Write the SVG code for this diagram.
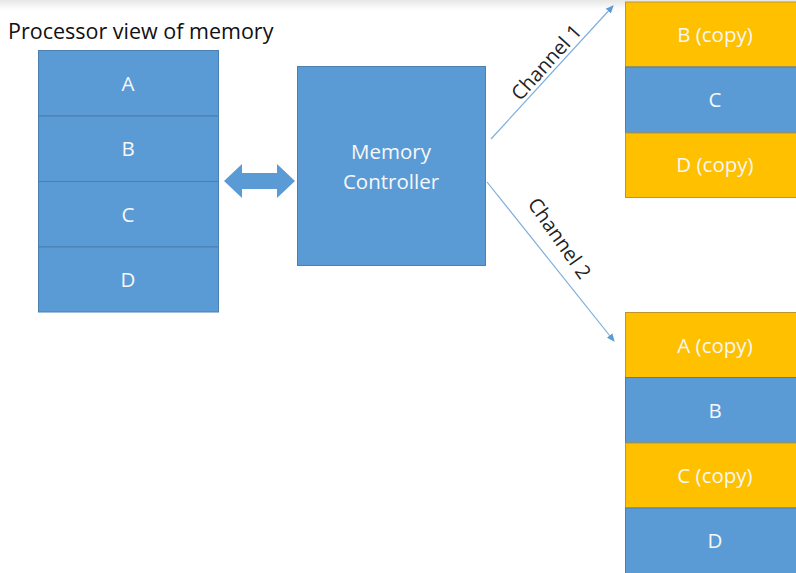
<svg xmlns="http://www.w3.org/2000/svg" width="796" height="573" viewBox="0 0 796 573">
<defs>
<linearGradient id="topshade" x1="0" y1="0" x2="0" y2="1">
<stop offset="0" stop-color="#e6e6e6"/>
<stop offset="1" stop-color="#ffffff"/>
</linearGradient>
<marker id="ah" markerWidth="8" markerHeight="8" refX="7" refY="4" orient="auto" markerUnits="userSpaceOnUse">
<path d="M0,0.5 L8,4 L0,7.5 Z" fill="#5b9bd5"/>
</marker>
<style>
.blue{fill:#5b9bd5;stroke:#4a7fb0;stroke-width:1}
.yel{fill:#ffc000;stroke:#c0962a;stroke-width:1}
.lbl{font-family:"Open Sans","Liberation Sans",sans-serif;font-size:20.5px;fill:#f7f7f7;text-anchor:middle;dominant-baseline:central}
.ch{font-family:"Open Sans","Liberation Sans",sans-serif;font-size:20px;fill:#222222;text-anchor:middle;dominant-baseline:central}
.conn{stroke:#7eaedc;stroke-width:1.2;fill:none}
</style>
</defs>
<rect x="0" y="0" width="796" height="573" fill="#ffffff"/>
<rect x="0" y="0" width="796" height="10" fill="url(#topshade)"/>
<text x="8" y="30" font-family="'Open Sans','Liberation Sans',sans-serif" font-size="21.5" fill="#111111" dominant-baseline="central">Processor view of memory</text>

<g id="proc-view">
<rect class="blue" x="38.5" y="50.5" width="180" height="65.5"/>
<text class="lbl" x="128" y="83">A</text>
<rect class="blue" x="38.5" y="116" width="180" height="65.5"/>
<text class="lbl" x="128" y="148">B</text>
<rect class="blue" x="38.5" y="181.5" width="180" height="65.5"/>
<text class="lbl" x="128" y="214">C</text>
<rect class="blue" x="38.5" y="247" width="180" height="65"/>
<text class="lbl" x="128" y="279">D</text>
</g>

<g id="memory-controller">
<rect class="blue" x="297.5" y="66.5" width="188" height="199"/>
<text class="lbl" x="391" y="151">Memory</text>
<text class="lbl" x="391" y="181">Controller</text>
</g>

<g id="channel1-mem">
<rect class="yel" x="625.5" y="2" width="175" height="65"/>
<text class="lbl" x="715" y="34">B (copy)</text>
<rect class="blue" x="625.5" y="67" width="175" height="66"/>
<text class="lbl" x="715" y="99">C</text>
<rect class="yel" x="625.5" y="133" width="175" height="64.5"/>
<text class="lbl" x="715" y="164">D (copy)</text>
</g>

<g id="channel2-mem">
<rect class="yel" x="625.5" y="312.5" width="175" height="65"/>
<text class="lbl" x="715" y="345">A (copy)</text>
<rect class="blue" x="625.5" y="377.5" width="175" height="65.5"/>
<text class="lbl" x="715" y="410">B</text>
<rect class="yel" x="625.5" y="443" width="175" height="65"/>
<text class="lbl" x="715" y="475">C (copy)</text>
<rect class="blue" x="625.5" y="508" width="175" height="70"/>
<text class="lbl" x="715" y="540">D</text>
</g>

<g id="connectors">
<path d="M224,181 L242,164 L242,173 L277,173 L277,164 L295,181 L277,198 L277,189 L242,189 L242,198 Z" fill="#5b9bd5"/>
<line class="conn" x1="491" y1="139" x2="613" y2="6" marker-end="url(#ah)"/>
<line class="conn" x1="487" y1="182" x2="614" y2="341" marker-end="url(#ah)"/>
<text class="ch" transform="translate(546,62) rotate(-48)">Channel 1</text>
<text class="ch" transform="translate(560,238) rotate(55)">Channel 2</text>
</g>
</svg>
